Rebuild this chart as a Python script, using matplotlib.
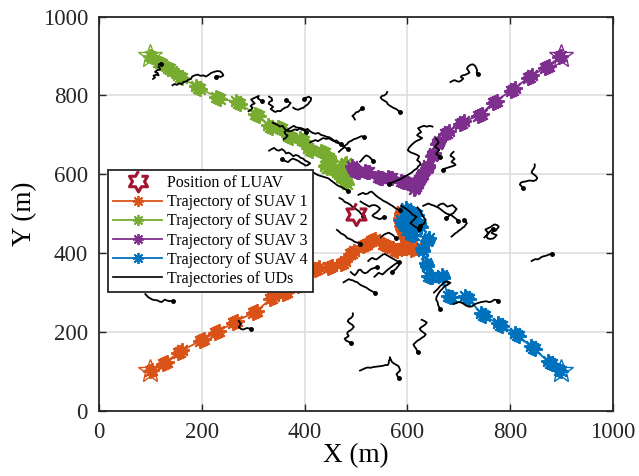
import numpy as np
import matplotlib
matplotlib.use('Agg')
import matplotlib.pyplot as plt
from matplotlib.lines import Line2D

plt.rcParams['font.family'] = ['Liberation Serif', 'DejaVu Serif']

# position of the large UAV
luav_pos = (500, 500)

# SUAV trajectories (markers come in small clumps)
suav1_x = [100, 104, 124, 128, 132, 154, 158, 162, 196, 200, 204, 226, 230, 234, 261, 265, 269, 300, 304, 308,
           333, 337, 341, 358, 362, 366, 387, 391, 395, 420, 424, 428, 445, 449, 453, 471, 475, 479, 488, 492,
           496, 514, 518, 522, 529, 533, 537, 552, 556, 560, 572, 576, 580, 591, 595, 599, 608, 612, 616, 600,
           598, 596, 592, 590, 588, 587, 586, 585, 587, 588, 589]
suav1_y = [100, 103, 119, 122, 125, 147, 150, 153, 177, 180, 183, 197, 200, 203, 223, 226, 229, 248, 251, 254,
           283, 287, 291, 296, 299, 302, 317, 320, 323, 356, 360, 364, 363, 365, 367, 373, 376, 379, 397, 401,
           405, 418, 421, 424, 431, 434, 437, 424, 421, 418, 412, 409, 406, 412, 414, 416, 408, 410, 412, 432,
           438, 444, 456, 462, 468, 478, 484, 490, 496, 502, 508]

suav2_x = [100, 104, 115, 119, 123, 134, 138, 142, 154, 158, 162, 189, 193, 197, 228, 232, 236, 266, 270, 274,
           303, 307, 311, 329, 333, 337, 348, 352, 356, 368, 372, 376, 391, 395, 399, 407, 411, 415, 432, 436,
           440, 447, 449, 451, 442, 440, 444, 456, 460, 464, 471, 475, 479, 478, 480, 482, 470, 468, 470, 476,
           478, 480]
suav2_y = [900, 897, 886, 883, 880, 869, 866, 863, 851, 848, 845, 823, 820, 817, 797, 794, 791, 785, 782, 779,
           754, 751, 748, 724, 721, 718, 721, 718, 715, 698, 695, 692, 691, 688, 685, 666, 662, 658, 660, 657,
           654, 641, 637, 633, 624, 620, 616, 613, 610, 607, 593, 590, 587, 584, 580, 576, 596, 600, 604, 621,
           625, 629]

suav3_x = [900, 896, 876, 872, 868, 843, 839, 835, 809, 805, 801, 774, 770, 766, 745, 741, 737, 710, 706, 702,
           681, 677, 673, 662, 660, 658, 651, 650, 649, 641, 640, 639, 630, 628, 626, 622, 621, 620, 616, 615,
           614, 609, 605, 601, 595, 591, 587, 570, 566, 562, 551, 547, 543, 525, 521, 517, 506, 502, 498, 496,
           494, 492]
suav3_y = [900, 897, 876, 873, 870, 851, 848, 845, 818, 815, 812, 787, 784, 781, 754, 751, 748, 734, 731, 728,
           709, 706, 703, 684, 680, 676, 654, 650, 646, 623, 619, 615, 602, 598, 594, 585, 581, 577, 570, 566,
           562, 573, 575, 577, 580, 581, 582, 590, 591, 592, 591, 591, 592, 605, 607, 609, 607, 607, 608, 613,
           617, 621]

suav4_x = [900, 896, 881, 877, 873, 848, 844, 840, 817, 813, 809, 784, 780, 776, 751, 747, 743, 720, 716, 712,
           687, 683, 679, 670, 669, 668, 648, 644, 640, 639, 638, 637, 631, 630, 629, 638, 640, 642, 613, 609,
           605, 606, 605, 604, 600, 599, 598, 612, 615, 618, 623, 625, 627, 603, 600, 597, 592, 590, 588]
suav4_y = [100, 104, 118, 122, 126, 156, 160, 164, 189, 193, 197, 214, 218, 222, 240, 244, 248, 283, 287, 291,
           288, 289, 290, 336, 340, 344, 339, 340, 341, 367, 371, 375, 405, 409, 413, 430, 434, 438, 445, 447,
           449, 481, 485, 489, 506, 510, 514, 502, 500, 498, 474, 470, 466, 462, 460, 458, 476, 480, 484]

suav_x = [suav1_x, suav2_x, suav3_x, suav4_x]
suav_y = [suav1_y, suav2_y, suav3_y, suav4_y]
suav_colors = ['#D95319', '#77AC30', '#7E2F8E', '#0072BD']
suav_labels = ['Trajectory of SUAV 1', 'Trajectory of SUAV 2', 'Trajectory of SUAV 3', 'Trajectory of SUAV 4']

# UD trajectories (hand traced squiggles)
ud_tracks = [
    [(105, 842), (109, 846), (106, 850), (111, 853), (116, 851), (114, 857), (109, 860), (113, 864), (119, 866),
     (117, 872), (112, 875), (116, 879), (121, 881)],
    [(143, 826), (147, 829), (152, 827), (156, 831), (161, 829), (164, 834), (170, 836), (174, 840), (179, 842),
     (181, 848), (186, 851), (192, 853), (197, 850), (203, 851), (208, 848), (213, 852), (218, 857), (224, 860),
     (230, 862), (236, 861), (240, 856), (242, 851), (237, 847), (231, 849), (227, 846)],
    [(291, 760), (296, 764), (299, 769), (295, 773), (298, 777), (303, 780), (299, 785), (296, 790), (301, 793),
     (306, 796), (311, 799), (309, 793), (313, 789), (317, 785)],
    [(331, 797), (336, 793), (337, 787), (332, 784), (330, 779), (335, 775), (339, 771), (334, 766), (338, 762),
     (343, 758), (348, 761), (353, 760), (357, 765), (362, 769), (367, 771), (370, 776), (373, 781), (368, 785),
     (364, 788)],
    [(378, 769), (383, 765), (388, 764), (393, 767), (398, 769), (402, 774), (406, 777), (409, 782), (412, 787),
     (413, 793), (408, 797), (403, 794), (399, 790)],
    [(338, 731), (343, 728), (348, 725), (352, 721), (357, 723), (361, 716), (365, 711), (371, 709), (376, 711),
     (381, 714), (386, 712), (391, 718), (396, 716), (401, 713), (406, 715), (411, 709), (416, 705), (421, 703),
     (427, 705), (432, 700), (438, 698), (443, 695), (448, 694), (453, 690), (457, 686), (461, 681), (466, 679),
     (471, 676)],
    [(331, 660), (336, 664), (341, 667), (345, 662), (350, 660), (356, 664), (361, 659), (364, 653), (369, 655),
     (374, 651), (378, 646), (383, 649), (388, 647), (392, 642), (397, 640), (401, 635), (406, 632), (411, 628),
     (407, 624), (402, 622), (398, 626), (393, 629), (388, 634), (383, 637), (377, 640), (372, 636), (368, 631),
     (362, 634), (357, 638)],
    [(359, 689), (364, 693), (367, 698), (362, 703), (361, 708), (366, 712), (370, 716), (375, 720), (379, 723),
     (384, 719), (389, 718), (393, 714), (398, 712), (403, 707)],
    [(411, 681), (416, 684), (421, 687), (426, 684), (431, 688), (436, 692), (442, 690), (448, 691), (453, 687),
     (457, 684), (462, 686), (467, 680), (471, 676), (475, 671), (480, 667), (485, 663)],
    [(684, 834), (688, 837), (692, 839), (697, 836), (701, 835), (706, 839), (709, 843), (704, 847), (707, 851),
     (712, 852), (717, 855), (721, 858), (719, 863), (716, 868), (718, 873), (723, 878), (728, 879), (732, 875),
     (734, 870), (736, 864), (735, 858), (737, 854)],
    [(561, 809), (559, 804), (555, 800), (551, 799), (548, 795), (551, 790), (555, 787), (560, 783), (562, 778),
     (566, 774), (570, 771), (574, 768), (578, 766), (582, 762), (586, 758)],
    [(498, 739), (496, 744), (493, 748), (497, 752), (500, 757), (505, 759), (508, 763), (512, 767)],
    [(467, 657), (471, 662), (475, 666), (478, 672), (483, 677), (486, 682), (491, 685), (496, 689), (501, 691),
     (506, 694), (511, 697), (516, 694)],
    [(649, 721), (644, 723), (638, 721), (632, 723), (626, 720), (621, 717), (624, 712), (627, 707), (622, 703),
     (619, 699), (624, 695), (629, 692), (624, 688), (617, 684), (612, 679), (607, 673), (603, 667), (601, 661),
     (606, 656), (612, 653), (618, 650), (623, 646), (621, 640), (619, 636), (624, 631), (626, 625), (621, 620),
     (619, 615), (613, 610), (609, 605), (603, 600), (598, 596), (592, 592), (587, 588), (581, 585), (576, 582),
     (570, 579), (565, 576)],
    [(656, 691), (659, 686), (661, 680), (657, 675), (654, 670), (658, 666), (662, 662), (659, 657), (656, 652),
     (660, 648), (664, 644)],
    [(690, 657), (686, 652), (684, 647), (689, 643), (692, 639), (688, 635), (686, 631), (691, 628), (694, 624),
     (689, 621), (684, 619), (679, 617), (674, 615), (670, 612)],
    [(848, 625), (848, 619), (846, 614), (843, 609), (842, 604), (846, 600), (850, 596), (853, 591), (851, 586),
     (846, 583), (841, 584), (836, 584), (831, 582), (826, 581), (821, 579), (819, 574), (823, 569), (825, 565)],
    [(508, 632), (511, 636), (514, 641), (517, 645), (520, 648), (524, 646), (527, 643), (530, 639), (533, 635)],
    [(505, 548), (510, 551), (514, 553), (518, 550), (523, 551), (527, 555), (531, 556), (535, 551), (539, 546),
     (544, 541), (549, 537), (553, 533), (558, 530), (562, 527), (567, 523), (572, 519), (576, 515), (580, 512),
     (585, 509)],
    [(509, 531), (514, 527), (518, 524), (522, 521), (526, 518), (530, 521), (535, 522), (539, 521), (543, 518),
     (547, 513), (544, 508), (540, 503), (535, 499), (532, 495), (536, 491), (541, 489), (546, 486), (550, 488),
     (555, 492)],
    [(463, 459), (467, 455), (471, 450), (476, 447), (480, 443), (483, 438), (488, 436), (493, 433), (497, 429),
     (502, 427), (507, 424)],
    [(631, 520), (636, 523), (641, 526), (646, 523), (651, 521), (656, 518), (661, 515), (665, 511), (669, 507),
     (673, 503), (677, 500), (682, 498), (687, 495), (691, 491), (695, 487), (699, 482)],
    [(750, 440), (754, 445), (758, 450), (755, 455), (752, 460), (757, 463), (762, 466), (766, 470), (770, 473),
     (775, 471), (778, 467), (775, 462), (772, 457), (767, 455), (764, 451), (769, 448), (774, 446), (771, 441),
     (767, 437), (762, 436), (757, 437), (754, 442), (756, 449), (761, 455), (766, 461)],
    [(660, 520), (664, 524), (670, 526), (674, 522), (678, 518), (683, 520), (688, 522), (692, 517), (696, 512),
     (693, 507), (690, 502), (686, 499), (682, 496), (679, 492), (676, 488)],
    [(686, 442), (690, 446), (693, 450), (697, 453), (700, 457), (704, 460), (707, 464), (711, 467), (713, 471),
     (716, 476), (713, 481), (710, 484)],
    [(842, 380), (846, 383), (850, 385), (854, 384), (858, 387), (861, 390), (865, 392), (869, 393), (873, 395),
     (877, 397), (881, 399)],
    [(652, 300), (656, 305), (660, 310), (663, 315), (667, 320), (671, 325), (675, 328), (680, 327), (684, 325),
     (680, 321), (676, 318), (671, 314), (668, 309), (664, 304), (660, 296), (657, 289), (656, 282), (659, 276),
     (660, 268), (662, 263), (664, 258)],
    [(690, 271), (695, 273), (700, 276), (704, 275), (708, 273), (712, 269), (716, 266), (721, 264), (726, 265),
     (730, 269), (734, 272), (739, 274), (744, 276), (749, 277), (754, 278), (758, 276), (762, 276), (766, 279),
     (770, 282), (774, 281), (777, 279)],
    [(628, 231), (633, 228), (638, 224), (635, 219), (631, 215), (627, 212), (624, 208), (627, 203), (631, 199),
     (636, 194), (633, 189), (628, 185), (624, 181), (619, 177), (615, 172), (612, 168), (614, 163), (617, 158),
     (619, 153), (620, 148)],
    [(508, 102), (513, 105), (518, 108), (523, 110), (528, 109), (534, 111), (540, 112), (546, 113), (552, 114),
     (557, 116), (562, 116), (564, 121), (564, 126), (566, 131), (566, 136), (568, 130), (570, 124), (574, 120),
     (578, 117), (583, 113), (585, 107), (586, 102), (582, 97), (579, 93), (581, 88), (583, 84)],
    [(494, 247), (494, 241), (491, 236), (486, 232), (484, 227), (488, 222), (493, 218), (496, 213), (493, 208),
     (489, 204), (484, 200), (483, 195), (486, 190), (482, 186), (478, 183), (481, 178), (486, 175), (491, 172)],
    [(476, 326), (481, 330), (486, 334), (490, 332), (494, 331), (498, 328), (503, 326), (507, 321), (511, 318),
     (516, 315), (521, 312), (525, 308), (529, 305), (533, 302), (537, 300)],
    [(490, 352), (494, 347), (498, 344), (502, 350), (505, 357), (509, 358), (513, 352), (517, 349), (522, 351),
     (526, 356), (530, 360), (535, 362), (541, 365)],
    [(524, 380), (528, 385), (532, 388), (536, 385), (540, 384), (544, 388), (548, 392), (552, 396), (556, 398),
     (560, 395), (564, 392), (568, 389), (572, 386), (576, 383), (580, 380), (583, 375), (584, 370), (581, 365),
     (578, 360), (574, 356), (570, 352)],
    [(536, 340), (540, 345), (544, 350), (548, 348), (552, 346), (556, 351), (560, 356), (564, 360), (568, 364),
     (572, 368), (576, 372), (580, 375), (584, 378)],
    [(90, 296), (93, 292), (96, 288), (100, 285), (104, 282), (109, 281), (114, 280), (118, 277), (122, 276),
     (125, 279), (128, 282), (132, 280), (136, 278), (140, 279), (144, 278)],
    [(272, 228), (274, 224), (276, 220), (274, 216), (272, 212), (276, 208), (280, 206), (284, 208), (288, 210),
     (292, 209), (296, 208)],
    [(418, 604), (422, 601), (426, 598), (431, 596), (436, 594), (441, 592), (446, 590), (451, 585), (456, 580),
     (460, 576), (464, 572), (469, 569), (474, 566), (479, 562), (484, 558)],
    [(588, 520), (592, 517), (596, 514), (600, 510), (604, 506), (607, 502), (610, 498), (614, 495), (618, 492),
     (615, 488), (612, 484), (609, 480), (606, 476), (610, 472), (614, 468), (618, 465), (622, 462)],
    [(548, 440), (552, 444), (556, 448), (560, 450), (564, 452), (568, 449), (572, 446), (575, 442), (578, 438)],
    [(620, 516), (623, 511), (626, 506), (628, 500), (630, 494), (633, 489), (636, 484), (634, 479), (632, 474),
     (628, 472), (624, 470)],
    [(468, 540), (474, 536), (478, 530), (484, 527), (490, 522), (494, 516), (500, 512), (506, 506), (510, 500),
     (514, 494)],
]


def hexagram():
    # six pointed star outline used for the LUAV
    ang = np.pi / 2 + np.arange(12) * np.pi / 6
    rad = np.where(np.arange(12) % 2 == 0, 1.0, 0.577)
    return list(zip(rad * np.cos(ang), rad * np.sin(ang)))


fig = plt.figure(figsize=(6.39, 4.76), dpi=100)
ax = fig.add_axes([0.155, 0.137, 0.804, 0.828])

asterisk = (8, 2, 0)
for xs, ys, c in zip(suav_x, suav_y, suav_colors):
    ax.plot(xs, ys, color=c, lw=1.3, marker=asterisk, ms=10.5, mew=1.4, zorder=3)

for tr in ud_tracks:
    xs = [p[0] for p in tr]
    ys = [p[1] for p in tr]
    ax.plot(xs, ys, color='k', lw=1.3, zorder=4)
    ax.plot(xs[-1], ys[-1], color='k', marker='.', ms=5, zorder=4)

# start positions of SUAVs
for xs, ys, c in zip(suav_x, suav_y, suav_colors):
    ax.plot(xs[0], ys[0], marker='*', ms=18, mfc='none', mec=c, mew=1.0, zorder=5)

hexa = hexagram()
ax.plot(luav_pos[0], luav_pos[1], marker=hexa, ms=16, mfc='none', mec='#A2142F', mew=2.2, ls='none', zorder=6)

ax.set_xlim(0, 1000)
ax.set_ylim(0, 1000)
ax.set_xticks(np.arange(0, 1001, 200))
ax.set_yticks(np.arange(0, 1001, 200))
ax.grid(True, color='#dedede', lw=1.2)
ax.set_axisbelow(True)
ax.tick_params(direction='in', top=True, right=True, length=5, width=1.0, labelsize=16.5, colors='#262626')
ax.tick_params(axis='x', pad=8)
ax.tick_params(axis='y', pad=8)
for s in ax.spines.values():
    s.set_linewidth(1.3)
    s.set_color('#262626')
ax.set_xlabel('X (m)', fontsize=19.5, labelpad=0)
ax.set_ylabel('Y (m)', fontsize=19.5, labelpad=4)

handles = [Line2D([], [], ls='none', marker=hexa, ms=15, mfc='none', mec='#A2142F', mew=2.2)]
for c in suav_colors:
    handles.append(Line2D([], [], color=c, lw=1.3, marker=asterisk, ms=8, mew=1.3))
handles.append(Line2D([], [], color='k', lw=1.2))
labels = ['Position of LUAV'] + suav_labels + ['Trajectories of UDs']
leg = ax.legend(handles, labels, loc='lower left', bbox_to_anchor=(0.0175, 0.302), borderaxespad=0,
                fontsize=11.5, numpoints=1, handlelength=3.1, handletextpad=0.3, labelspacing=0.2,
                borderpad=0.3, fancybox=False, framealpha=1, edgecolor='#262626')
leg.get_frame().set_linewidth(1.3)
leg.set_zorder(10)

fig.savefig('out.png', dpi=100)
